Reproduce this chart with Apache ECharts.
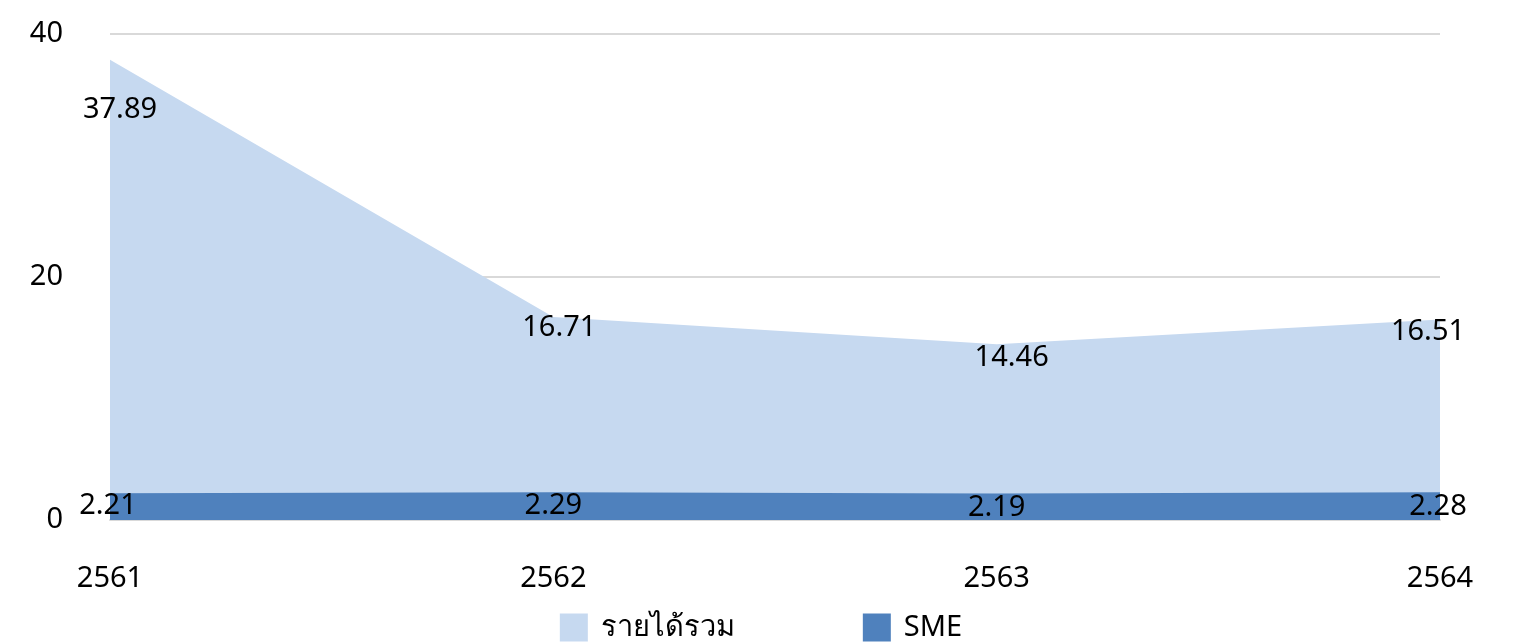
<!DOCTYPE html>
<html>
<head>
<meta charset="utf-8">
<script src="https://cdn.jsdelivr.net/npm/echarts@6/dist/echarts.min.js"></script>
<style>
  html, body { margin: 0; padding: 0; background: #fff; }
  #chart { width: 1522px; height: 642px; }
</style>
</head>
<body>
<div id="chart"></div>
<script>
const years = ['2561', '2562', '2563', '2564']
const totalIncome = [37.89, 16.71, 14.46, 16.51]
const smeIncome = [2.21, 2.29, 2.19, 2.28]
const totalLabelOffsets = [[10, 50], [6, 11], [15, 13], [-12, 12]]
const smeLabelOffsets = [[-2, 13], [0, 14], [0, 14], [-2, 14]]

const font = "'Noto Sans', 'Noto Sans CJK SC', sans-serif"
const chart = echarts.init(document.getElementById('chart'))

chart.setOption({
  animation: false,
  textStyle: { fontFamily: font },
  grid: { left: 110, right: 82, top: 34, bottom: 122 },
  legend: {
    bottom: -5,
    left: 'center',
    itemWidth: 28,
    itemHeight: 28,
    itemGap: 128,
    icon: 'rect',
    textStyle: { fontSize: 29, color: '#000', fontFamily: font, padding: [0, 0, 0, 8] },
    data: ['รายได้รวม', 'SME'],
  },
  xAxis: {
    type: 'category',
    data: years,
    boundaryGap: false,
    axisLine: { lineStyle: { color: '#d9d9d9', width: 2 } },
    axisTick: { show: false },
    axisLabel: { fontSize: 29, color: '#000', margin: 44 },
  },
  yAxis: {
    type: 'value',
    min: 0,
    max: 40,
    interval: 20,
    axisLine: { show: false },
    axisTick: { show: false },
    axisLabel: { fontSize: 29, color: '#000', margin: 47 },
    splitLine: { lineStyle: { color: '#d9d9d9', width: 2 } },
  },
  series: [
    {
      name: 'รายได้รวม',
      type: 'line',
      data: totalIncome.map((v, i) => ({
        value: v,
        label: { offset: totalLabelOffsets[i] },
      })),
      symbol: 'circle',
      symbolSize: 0.1,
      showSymbol: true,
      lineStyle: { width: 0 },
      itemStyle: { color: '#c6d9f0' },
      areaStyle: { color: '#c6d9f0', opacity: 1 },
      label: {
        show: true,
        position: 'inside',
        fontSize: 29,
        color: '#000',
        fontFamily: font,
      },
    },
    {
      name: 'SME',
      type: 'line',
      data: smeIncome.map((v, i) => ({
        value: v,
        label: { offset: smeLabelOffsets[i] },
      })),
      symbol: 'circle',
      symbolSize: 0.1,
      showSymbol: true,
      lineStyle: { width: 0 },
      itemStyle: { color: '#4f81bd' },
      areaStyle: { color: '#4f81bd', opacity: 1 },
      label: {
        show: true,
        position: 'inside',
        fontSize: 29,
        color: '#000',
        fontFamily: font,
      },
    },
  ],
})
</script>
</body>
</html>
